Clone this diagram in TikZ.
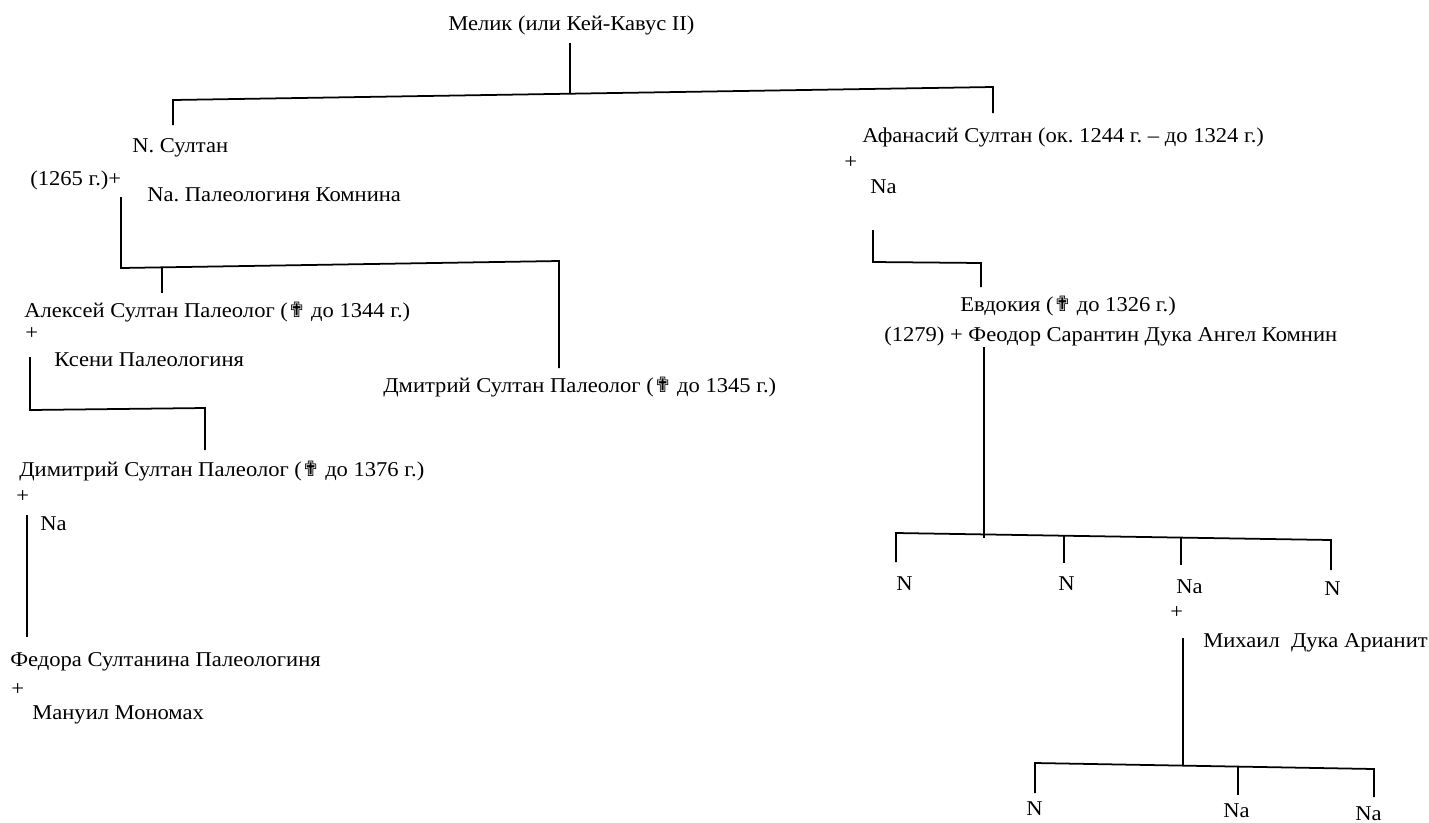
\documentclass[tikz,border=0pt]{standalone}
\usepackage{fontspec}
\setmainfont{Liberation Serif}[FakeStretch=1.07]
\newfontfamily\crossfont{DejaVu Sans}
\newcommand{\dcross}{{\crossfont\fontsize{12}{14}\selectfont ✟}}
\usetikzlibrary{calc,positioning}
\frenchspacing

\begin{document}
\begin{tikzpicture}[x=0.02cm,y=-0.02cm,
  person/.style={anchor=base west,inner sep=0pt,font=\fontsize{12}{14}\selectfont},
  link/.style={line width=1pt}]
  \useasboundingbox (0,0) rectangle (1429,822);

  \node[person] (melik) at (448,30) {Мелик (или Кей-Кавус II)};

  \node[person] (nsultan) at (132,152) {N. Султан};
  \node[person] (y1265) at (30,185) {(1265 г.)+};
  \node[person] (napal) at (147,201) {Na. Палеологиня Комнина};

  \node[person] (aleksey) at (24,317) {Алексей Султан Палеолог (\dcross\ до 1344 г.)};
  \node[person] (plusa) at (25,339) {+};
  \node[person] (kseni) at (54,366) {Ксени Палеологиня};
  \node[person] (dmitriy) at (383,392) {Дмитрий Султан Палеолог (\dcross\ до 1345 г.)};

  \node[person] (dimitriy) at (19,476) {Димитрий Султан Палеолог (\dcross\ до 1376 г.)};
  \node[person] (plusb) at (16,502) {+};
  \node[person] (nab) at (40,530) {Na};

  \node[person] (fedora) at (10,666) {Федора Султанина Палеологиня};
  \node[person] (plusc) at (11,695) {+};
  \node[person] (manuil) at (32,719) {Мануил Мономах};

  \node[person] (afan) at (862,142) {Афанасий Султан (ок. 1244 г. – до 1324 г.)};
  \node[person] (plusd) at (844,168) {+};
  \node[person] (nad) at (870,193) {Na};

  \node[person] (evdokia) at (960,311) {Евдокия (\dcross\ до 1326 г.)};
  \node[person] (feodor) at (884,341) {(1279) + Феодор Сарантин Дука Ангел Комнин};

  \node[person] (na1) at (896,590) {N};
  \node[person] (na2) at (1058,590) {N};
  \node[person] (na3) at (1176,593) {Na};
  \node[person] (na4) at (1324,595) {N};
  \node[person] (pluse) at (1170,618) {+};
  \node[person] (mikhail) at (1203,647) {Михаил\ \ Дука Арианит};

  \node[person] (nb1) at (1026,815) {N};
  \node[person] (nb2) at (1223,817) {Na};
  \node[person] (nb3) at (1355,820) {Na};

  \coordinate (m1) at (570,43);
  \coordinate (m2) at (570,93.7);
  \coordinate (b1l) at (173,100);
  \coordinate (b1r) at (993,87);
  \coordinate (ns) at (173,125);
  \coordinate (af) at (993,113);
  \draw[link] (m1) -- (m2);
  \draw[link] (ns) -- (b1l) -- (b1r) -- (af);

  \coordinate (p1) at (121,197);
  \coordinate (b2l) at (121,268);
  \coordinate (b2r) at (559,261);
  \coordinate (al1) at (162,267.3);
  \coordinate (al2) at (162,293);
  \coordinate (dm) at (559,368);
  \draw[link] (p1) -- (b2l) -- (b2r) -- (dm);
  \draw[link] (al1) -- (al2);

  \coordinate (p2) at (30,357);
  \coordinate (b3l) at (30,410);
  \coordinate (b3r) at (205,408);
  \coordinate (di) at (205,450);
  \draw[link] (p2) -- (b3l) -- (b3r) -- (di);

  \coordinate (p3) at (27,515);
  \coordinate (fe) at (27,637);
  \draw[link] (p3) -- (fe);

  \coordinate (p4) at (873,230);
  \coordinate (b4l) at (873,262);
  \coordinate (b4r) at (981,263);
  \coordinate (ev) at (981,287);
  \draw[link] (p4) -- (b4l) -- (b4r) -- (ev);

  \coordinate (p5) at (984,347);
  \coordinate (p5e) at (984,538);
  \coordinate (b5l) at (896,533);
  \coordinate (b5r) at (1331,540);
  \draw[link] (p5) -- (p5e);
  \draw[link] (896,562) -- (b5l) -- (b5r) -- (1331,570);
  \draw[link] (1064,535.7) -- (1064,563);
  \draw[link] (1181,537.6) -- (1181,565);

  \coordinate (p6) at (1183,638);
  \coordinate (p6e) at (1183,765.6);
  \coordinate (b6l) at (1035,763);
  \coordinate (b6r) at (1374,769);
  \draw[link] (p6) -- (p6e);
  \draw[link] (1035,793) -- (b6l) -- (b6r) -- (1374,797);
  \draw[link] (1238,766.6) -- (1238,795);
\end{tikzpicture}
\end{document}
